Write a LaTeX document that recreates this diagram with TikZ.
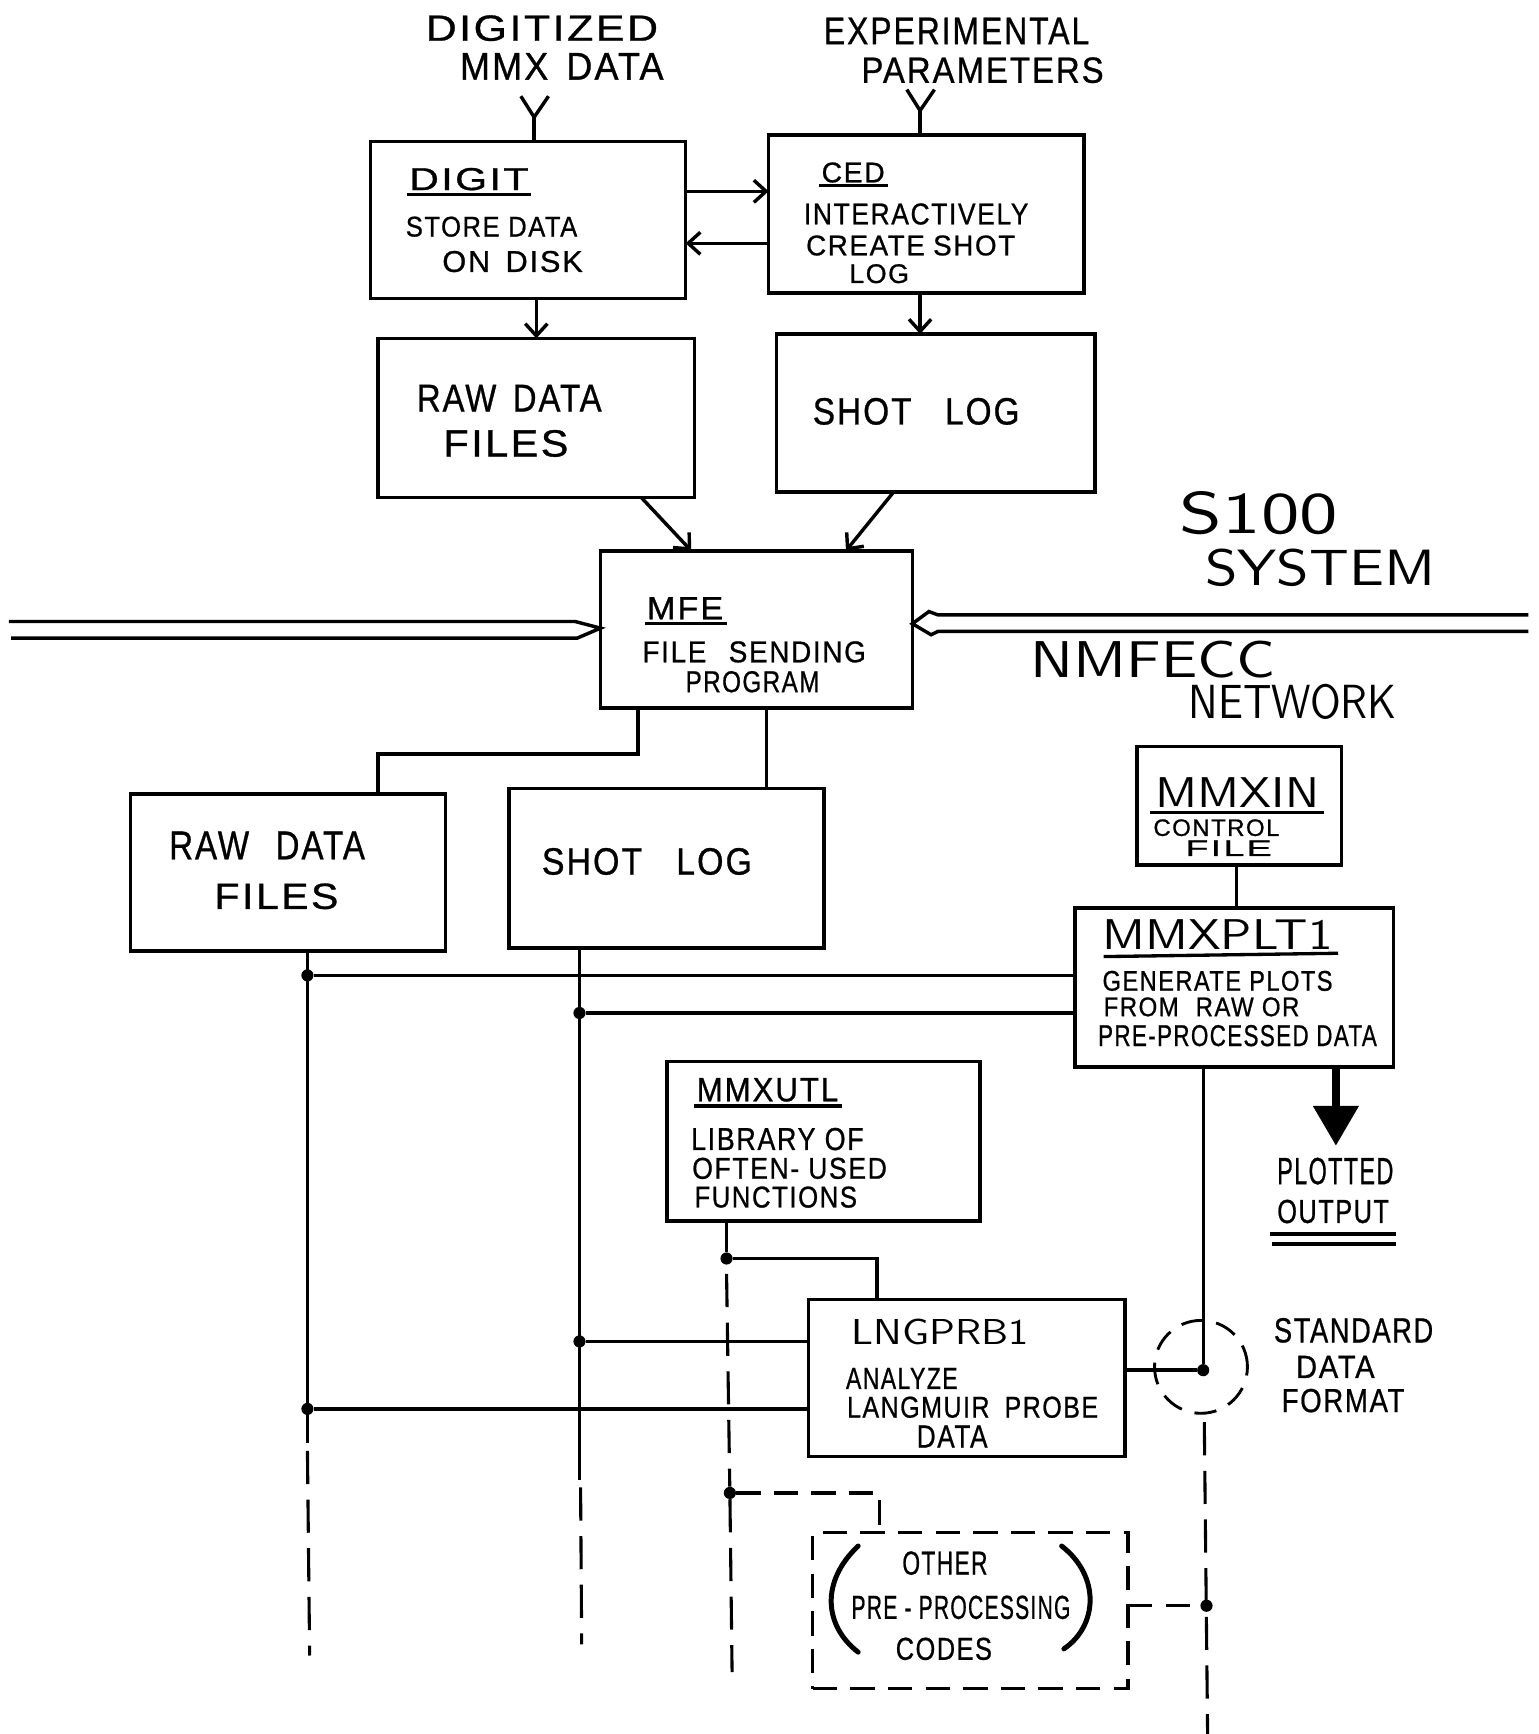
\documentclass[tikz,border=0pt]{standalone}
\usepackage{fontspec}
\setmainfont{Liberation Sans}[LetterSpace=6,FakeBold=0.8]
\newfontfamily\thinfont{Latin Modern Sans}
\usetikzlibrary{arrows.meta}
\newcommand\htext[6]{\node[txt] (#1) at ({(#2+#4)/2},{(#3+#5)/2}) {\resizebox{\dimexpr #4pt-#2pt\relax}{\dimexpr #5pt-#3pt\relax}{#6}};}
\newcommand\mkbox[6][]{\node[box,#1,minimum width={(#5-#3)*1pt},minimum height={(#6-#4)*1pt}] (#2) at ({(#3+#5)/2},{(#4+#6)/2}) {};}
\tikzset{
  box/.style={draw, line width=3.3pt, inner sep=0pt, outer sep=0pt},
  txt/.style={inner sep=0pt, outer sep=0pt},
  ln/.style={line width=3.1pt},
  thinln/.style={line width=2.6pt},
  dsh/.style={line width=2.8pt, dash pattern=on 30pt off 14pt},
  dshs/.style={line width=3pt, dash pattern=on 22pt off 12pt},
  arr/.style={ln, -{Straight Barb[length=11pt,width=20pt]}},
  dot/.style={circle, fill, inner sep=0pt, minimum size=11pt},
  uline/.style={line width=3pt},
}
\begin{document}
\begin{tikzpicture}[x=1pt,y=-1pt]
\fill[white] (0,0) rectangle (1391,1568);
\useasboundingbox (0,0) rectangle (1391,1568);

% ---------- boxes ----------
\mkbox{digit}{335}{128}{620}{270}
\mkbox{ced}{695}{122}{980}{265}
\mkbox{raw1}{342}{306}{628}{450}
\mkbox{shot1}{702}{302}{990}{445}
\mkbox{mfe}{543}{498}{825}{640}
\mkbox{raw2}{118}{718}{403}{860}
\mkbox{shot2}{460}{713}{745}{857}
\mkbox{mmxin}{1028}{675}{1213}{782}
\mkbox{mmxplt}{972}{821}{1260}{965}
\mkbox{mmxutl}{603}{960}{886}{1104}
\mkbox{lng}{731}{1175}{1017}{1317}
\mkbox[dshs]{other}{735}{1386}{1020}{1527}

% ---------- texts ----------
\htext{ta}{385}{14}{595}{37}{DIGITIZED}
\htext{tb}{416}{48}{600}{72}{MMX\hspace{.5em}DATA}
\htext{tc}{745}{16}{985}{40}{EXPERIMENTAL}
\htext{td}{779}{52}{998}{75}{PARAMETERS}
\htext{te}{370}{152}{478}{172}{DIGIT}
\htext{tf}{367}{196}{522}{214}{STORE DATA}
\htext{tg}{400}{227}{527}{246}{ON\hspace{.5em}DISK}
\htext{th}{743}{147}{800}{165}{CED}
\htext{ti}{727}{184}{930}{203}{INTERACTIVELY}
\htext{tj}{729}{213}{918}{231}{CREATE\hspace{.3em}SHOT}
\htext{tk}{768}{239}{822}{256}{LOG}
\htext{tl}{377}{348}{544}{372}{RAW\hspace{.5em}DATA}
\htext{tm}{401}{389}{514}{413}{FILES}
\htext{tn}{735}{360}{922}{384}{SHOT\hspace{1em}LOG}
\htext{to}{585}{540}{654}{560}{MFE}
\htext{tp}{581}{580}{783}{599}{FILE\hspace{.8em}SENDING}
\htext{tq}{620}{607}{741}{626}{PROGRAM}
\htext{tr}{1067}{445}{1210}{483}{\thinfont S100}
\htext{ts}{1090}{497}{1298}{530}{\thinfont SYSTEM}
\htext{tt}{932}{580}{1153}{613}{\thinfont NMFECC}
\htext{tu}{1075}{619}{1263}{650}{\thinfont NETWORK}
\htext{tv}{153}{752}{330}{777}{RAW\hspace{.8em}DATA}
\htext{tw}{194}{799}{306}{822}{FILES}
\htext{tx}{490}{767}{680}{791}{SHOT\hspace{1em}LOG}
\htext{ty}{1045}{703}{1193}{730}{\thinfont MMXIN}
\htext{tz}{1043}{741}{1157}{756}{CONTROL}
\htext{uA}{1072}{760}{1150}{774}{FILE}
\htext{uB}{997}{832}{1205}{859}{\thinfont MMXPLT1}
\htext{uC}{997}{878}{1205}{896}{GENERATE PLOTS}
\htext{uD}{998}{902}{1175}{919}{FROM\hspace{.7em}RAW OR}
\htext{uE}{993}{927}{1245}{946}{PRE-PROCESSED DATA}
\htext{uF}{1155}{1047}{1260}{1071}{PLOTTED}
\htext{uG}{1155}{1085}{1256}{1106}{OUTPUT}
\htext{uH}{630}{975}{758}{996}{MMXUTL}
\htext{uI}{625}{1020}{781}{1040}{LIBRARY OF}
\htext{uJ}{626}{1047}{802}{1066}{OFTEN- USED}
\htext{uK}{628}{1073}{775}{1092}{FUNCTIONS}
\htext{uL}{770}{1193}{930}{1216}{\thinfont LNGPRB1}
\htext{uM}{765}{1237}{866}{1256}{ANALYZE}
\htext{uN}{766}{1263}{993}{1282}{LANGMUIR\hspace{.6em}PROBE}
\htext{uO}{829}{1289}{893}{1309}{DATA}
\htext{uP}{1152}{1192}{1296}{1214}{STANDARD}
\htext{uQ}{1172}{1226}{1243}{1246}{DATA}
\htext{uR}{1159}{1256}{1270}{1277}{FORMAT}
\htext{uS}{816}{1403}{893}{1424}{OTHER}
\htext{uT}{770}{1443}{968}{1464}{PRE - PROCESSING}
\htext{uU}{810}{1481}{897}{1501}{CODES}

% underlines
\draw[uline] (368,176) -- (480,176);
\draw[uline] (741,168) -- (803,168);
\draw[uline] (583,564) -- (657,564);
\draw[uline] (1040,735) -- (1197,735);
\draw[uline] (998,865) -- (1210,862);
\draw[uline] (628,1000) -- (761,1000);
\draw[line width=3.3pt] (1148,1116) -- (1262,1116);
\draw[line width=3.3pt] (1150,1125) -- (1262,1125);

% ---------- inputs (Y symbols) ----------
\coordinate (yj1) at (483,106);
\coordinate (ya1) at (471,87);
\coordinate (yb1) at (496,87);
\draw[ln] (ya1) -- (yj1) -- (yb1);
\draw[ln] (yj1) -- (yj1 |- digit.north);
\coordinate (yj2) at (832,100);
\coordinate (ya2) at (820,81);
\coordinate (yb2) at (845,81);
\draw[ln] (ya2) -- (yj2) -- (yb2);
\draw[ln] (yj2) -- (yj2 |- ced.north);

% ---------- arrows top ----------
\draw[arr] (digit.east |- 0,173) -- (ced.west |- 0,173);
\draw[arr] (ced.west |- 0,220) -- (digit.east |- 0,220);
\draw[arr] (485,0 |- digit.south) -- (485,0 |- raw1.north);
\draw[arr] (832,0 |- ced.south) -- (832,0 |- shot1.north);
\draw[arr] (580,0 |- raw1.south) -- (625,0 |- mfe.north);
\draw[arr] (808,0 |- shot1.south) -- (765,0 |- mfe.north);

% ---------- double lines ----------
\coordinate (lt) at (mfe.west |- 0,568);
\coordinate (lfa) at (8,562);
\coordinate (lfb) at (10,577);
\draw[ln, line join=miter] (lfa) -- (520,562) -- (lt) -- (522,577) -- (lfb);
\coordinate (rt) at (mfe.east |- 0,564);
\coordinate (rfa) at (1382,556);
\coordinate (rfb) at (1382,571);
\draw[ln, line join=miter] (rfa) -- (848,556) -- (840,553) -- (rt) -- (842,574) -- (848,571) -- (rfb);

% ---------- MFE down ----------
\draw[ln] (577,0 |- mfe.south) -- (577,682) -- (342,682) -- (342,0 |- raw2.north);
\draw[ln] (693,0 |- mfe.south) -- (693,0 |- shot2.north);
\draw[ln] (1118,0 |- mmxin.south) -- (1118,0 |- mmxplt.north);

% ---------- long verticals ----------
\coordinate (v1e) at (280,1497);
\coordinate (v2e) at (526,1487);
\draw[thinln] (278,0 |- raw2.south) -- (278,1305);
\draw[dsh] (278,1312) -- (v1e);
\draw[thinln] (524,0 |- shot2.south) -- (524,1338);
\draw[dsh] (525,1345) -- (v2e);

\node[dot] (j1) at (278,882) {};
\draw[ln] (j1) -- (mmxplt.west |- j1);
\node[dot] (j2) at (524,916) {};
\draw[ln] (j2) -- (mmxplt.west |- j2);
\node[dot] (j3) at (524,1213) {};
\draw[ln] (j3) -- (lng.west |- j3);
\node[dot] (j4) at (278,1274) {};
\draw[ln] (j4) -- (lng.west |- j4);

% ---------- MMXPLT1 outputs ----------
\node[dot] (j5) at (1088,1239) {};
\draw[thinln] (j5 |- mmxplt.south) -- (j5);
\draw[ln] (lng.east |- j5) -- (j5);
\node[draw, circle, line width=2.6pt, dash pattern=on 20pt off 12pt, minimum size=84pt, inner sep=0pt] (sdf) at (1086,1236) {};
\coordinate (v3e) at (1092,1568);
\draw[dsh] (1089,1286) -- (v3e);
\coordinate (plotend) at (1208,1036);
\draw[line width=6.5pt, -{Triangle[length=36pt,width=40pt]}] (1208,0 |- mmxplt.south) -- (plotend);

% ---------- MMXUTL ----------
\node[dot] (j6) at (657,1138) {};
\draw[ln] (657,0 |- mmxutl.south) -- (j6) -- (793,1138) -- (793,0 |- lng.north);
\node[dot] (j7) at (660,1350) {};
\coordinate (v4e) at (662,1512);
\draw[dsh] (657,1152) -- (j7) -- (v4e);
\draw[dshs] (j7) -- (795,1350) -- (795,0 |- other.north);
\node[dot] (j8) at (1091,1452) {};
\draw[dshs] (other.east |- j8) -- (j8);

% parentheses
\draw[line width=4.5pt, line cap=round] (776,1398) .. controls (742,1430) and (745,1470) .. (776,1494);
\draw[line width=4.5pt, line cap=round] (960,1398) .. controls (995,1425) and (993,1470) .. (962,1491);
\end{tikzpicture}
\end{document}
